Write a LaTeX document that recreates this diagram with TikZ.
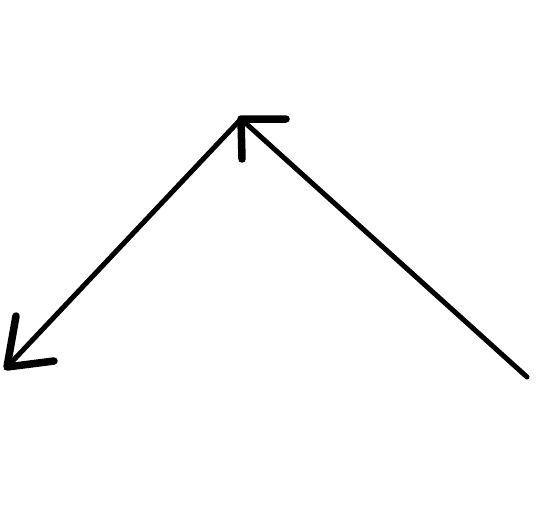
\documentclass[tikz,border=0pt]{standalone}
\begin{document}
\begin{tikzpicture}[x=1pt,y=-1pt,
  mainline/.style={line width=5pt,line cap=round,line join=round},
  headstroke/.style={line width=7.5pt,line cap=round,line join=round}]
\useasboundingbox (0,0) rectangle (538,517);
\coordinate (end) at (527,377);
\coordinate (apex) at (241,119);
\coordinate (apexR) at (286,119);
\coordinate (apexD) at (242,159);
\coordinate (tip) at (7,367);
\coordinate (tipU) at (16,316);
\coordinate (tipR) at (54,361);
\draw[mainline] (end) -- (apex) -- (tip);
\draw[headstroke] (apexR) -- (apex) -- (apexD);
\draw[headstroke] (tipU) -- (tip) -- (tipR);
\end{tikzpicture}
\end{document}
